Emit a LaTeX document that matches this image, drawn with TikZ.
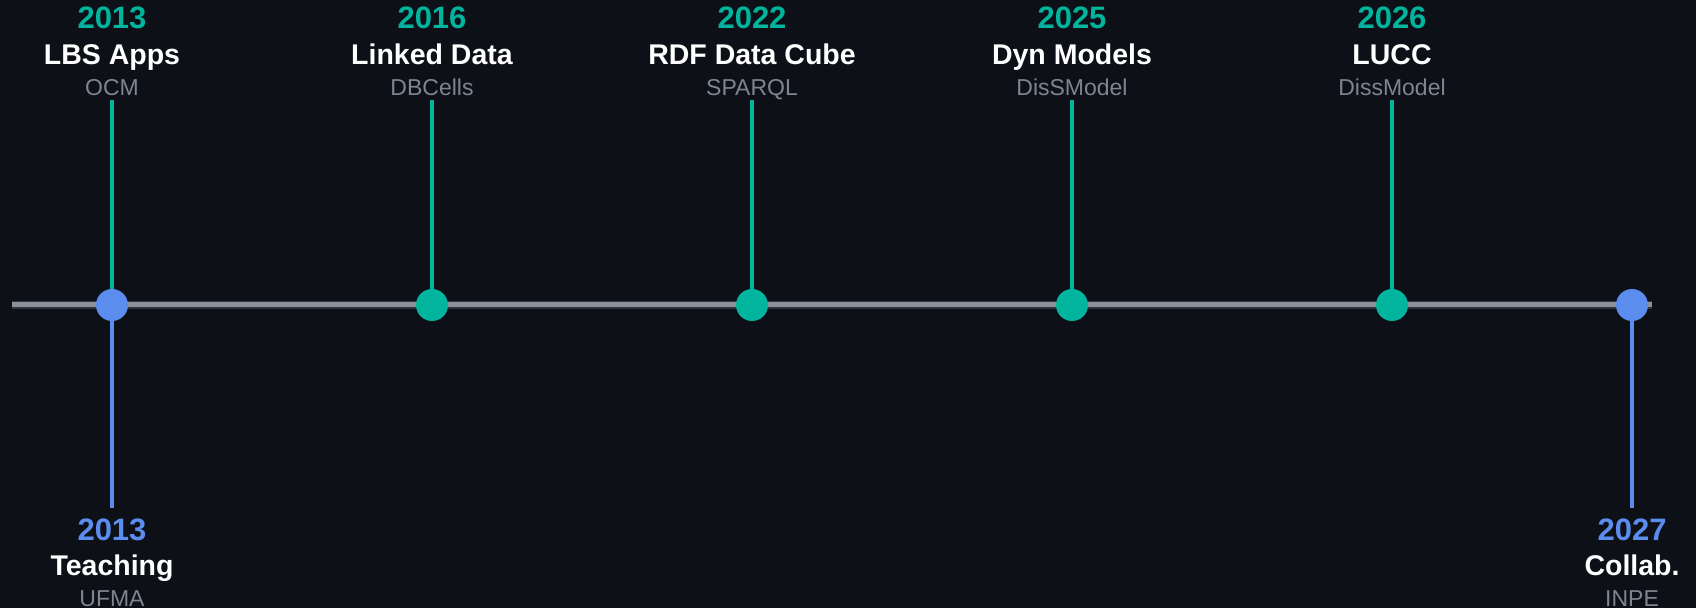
\documentclass[tikz,border=0pt]{standalone}
\usepackage{fontspec}
\setmainfont{Liberation Sans}
\usetikzlibrary{positioning,backgrounds}
\definecolor{bgdark}{RGB}{13,17,23}
\definecolor{teal2}{RGB}{0,180,158}
\definecolor{blue2}{RGB}{91,141,239}
\definecolor{mutedgray}{RGB}{125,133,144}
\definecolor{axisgray}{RGB}{139,145,153}
\definecolor{axisdark}{RGB}{48,54,61}

\tikzset{
  dot/.style={circle, fill=#1, minimum size=32pt, inner sep=0pt},
  yr/.style={text=#1, font=\bfseries\fontsize{31}{31}\selectfont, anchor=base, inner sep=0pt},
  ttl/.style={text=white, font=\bfseries\fontsize{28.5}{28.5}\selectfont, anchor=base, inner sep=0pt},
  sub/.style={text=mutedgray, font=\fontsize{23}{23}\selectfont, anchor=base, inner sep=0pt, text depth=0pt},
  stem/.style={draw=#1, line width=4pt},
}

\begin{document}
\begin{tikzpicture}[x=1pt, y=1pt]
    \coordinate (axL) at (12,303);
    \coordinate (axR) at (1652,303);
    % dots on the axis
    \foreach \i/\x/\c in {1/112/blue2, 2/432/teal2, 3/752/teal2, 4/1072/teal2, 5/1392/teal2, 6/1632/blue2}
        \node[dot=\c] (d\i) at (\x,303) {};
    % labels above
    \foreach \i/\x/\yr/\ttl/\sub in {1/112/2013/LBS Apps/OCM, 2/432/2016/Linked Data/DBCells, 3/752/2022/RDF Data Cube/SPARQL, 4/1072/2025/Dyn Models/DisSModel, 5/1392/2026/LUCC/DissModel} {
        \node[yr=teal2] (ty\i) at (\x,579) {\yr};
        \node[ttl] (tt\i) at (\x,543) {\ttl};
        \node[sub] (ts\i) at (\x,512) {\sub};
    }
    % labels below
    \foreach \i/\x/\yr/\ttl/\sub in {1/112/2013/Teaching/UFMA, 6/1632/2027/Collab./INPE} {
        \node[yr=blue2] (by\i) at (\x,68) {\yr};
        \node[ttl] (bt\i) at (\x,33) {\ttl};
        \node[sub] (bs\i) at (\x,2) {\sub};
    }
    \begin{scope}[on background layer]
        \fill[bgdark] (0,0) rectangle (1696,608);
        \draw[axisdark, line width=8pt] (axL) -- (axR);
        \draw[axisgray, line width=5pt] (axL) -- (axR);
        \foreach \i in {1,...,5}
            \draw[stem=teal2, shorten >=4pt] (d\i) -- (ts\i.south);
        \foreach \i in {1,6}
            \draw[stem=blue2, shorten >=10pt] (d\i) -- (by\i.north);
    \end{scope}
    \pgfresetboundingbox
    \path[use as bounding box] (0,0) rectangle (1696,608);
\end{tikzpicture}
\end{document}
